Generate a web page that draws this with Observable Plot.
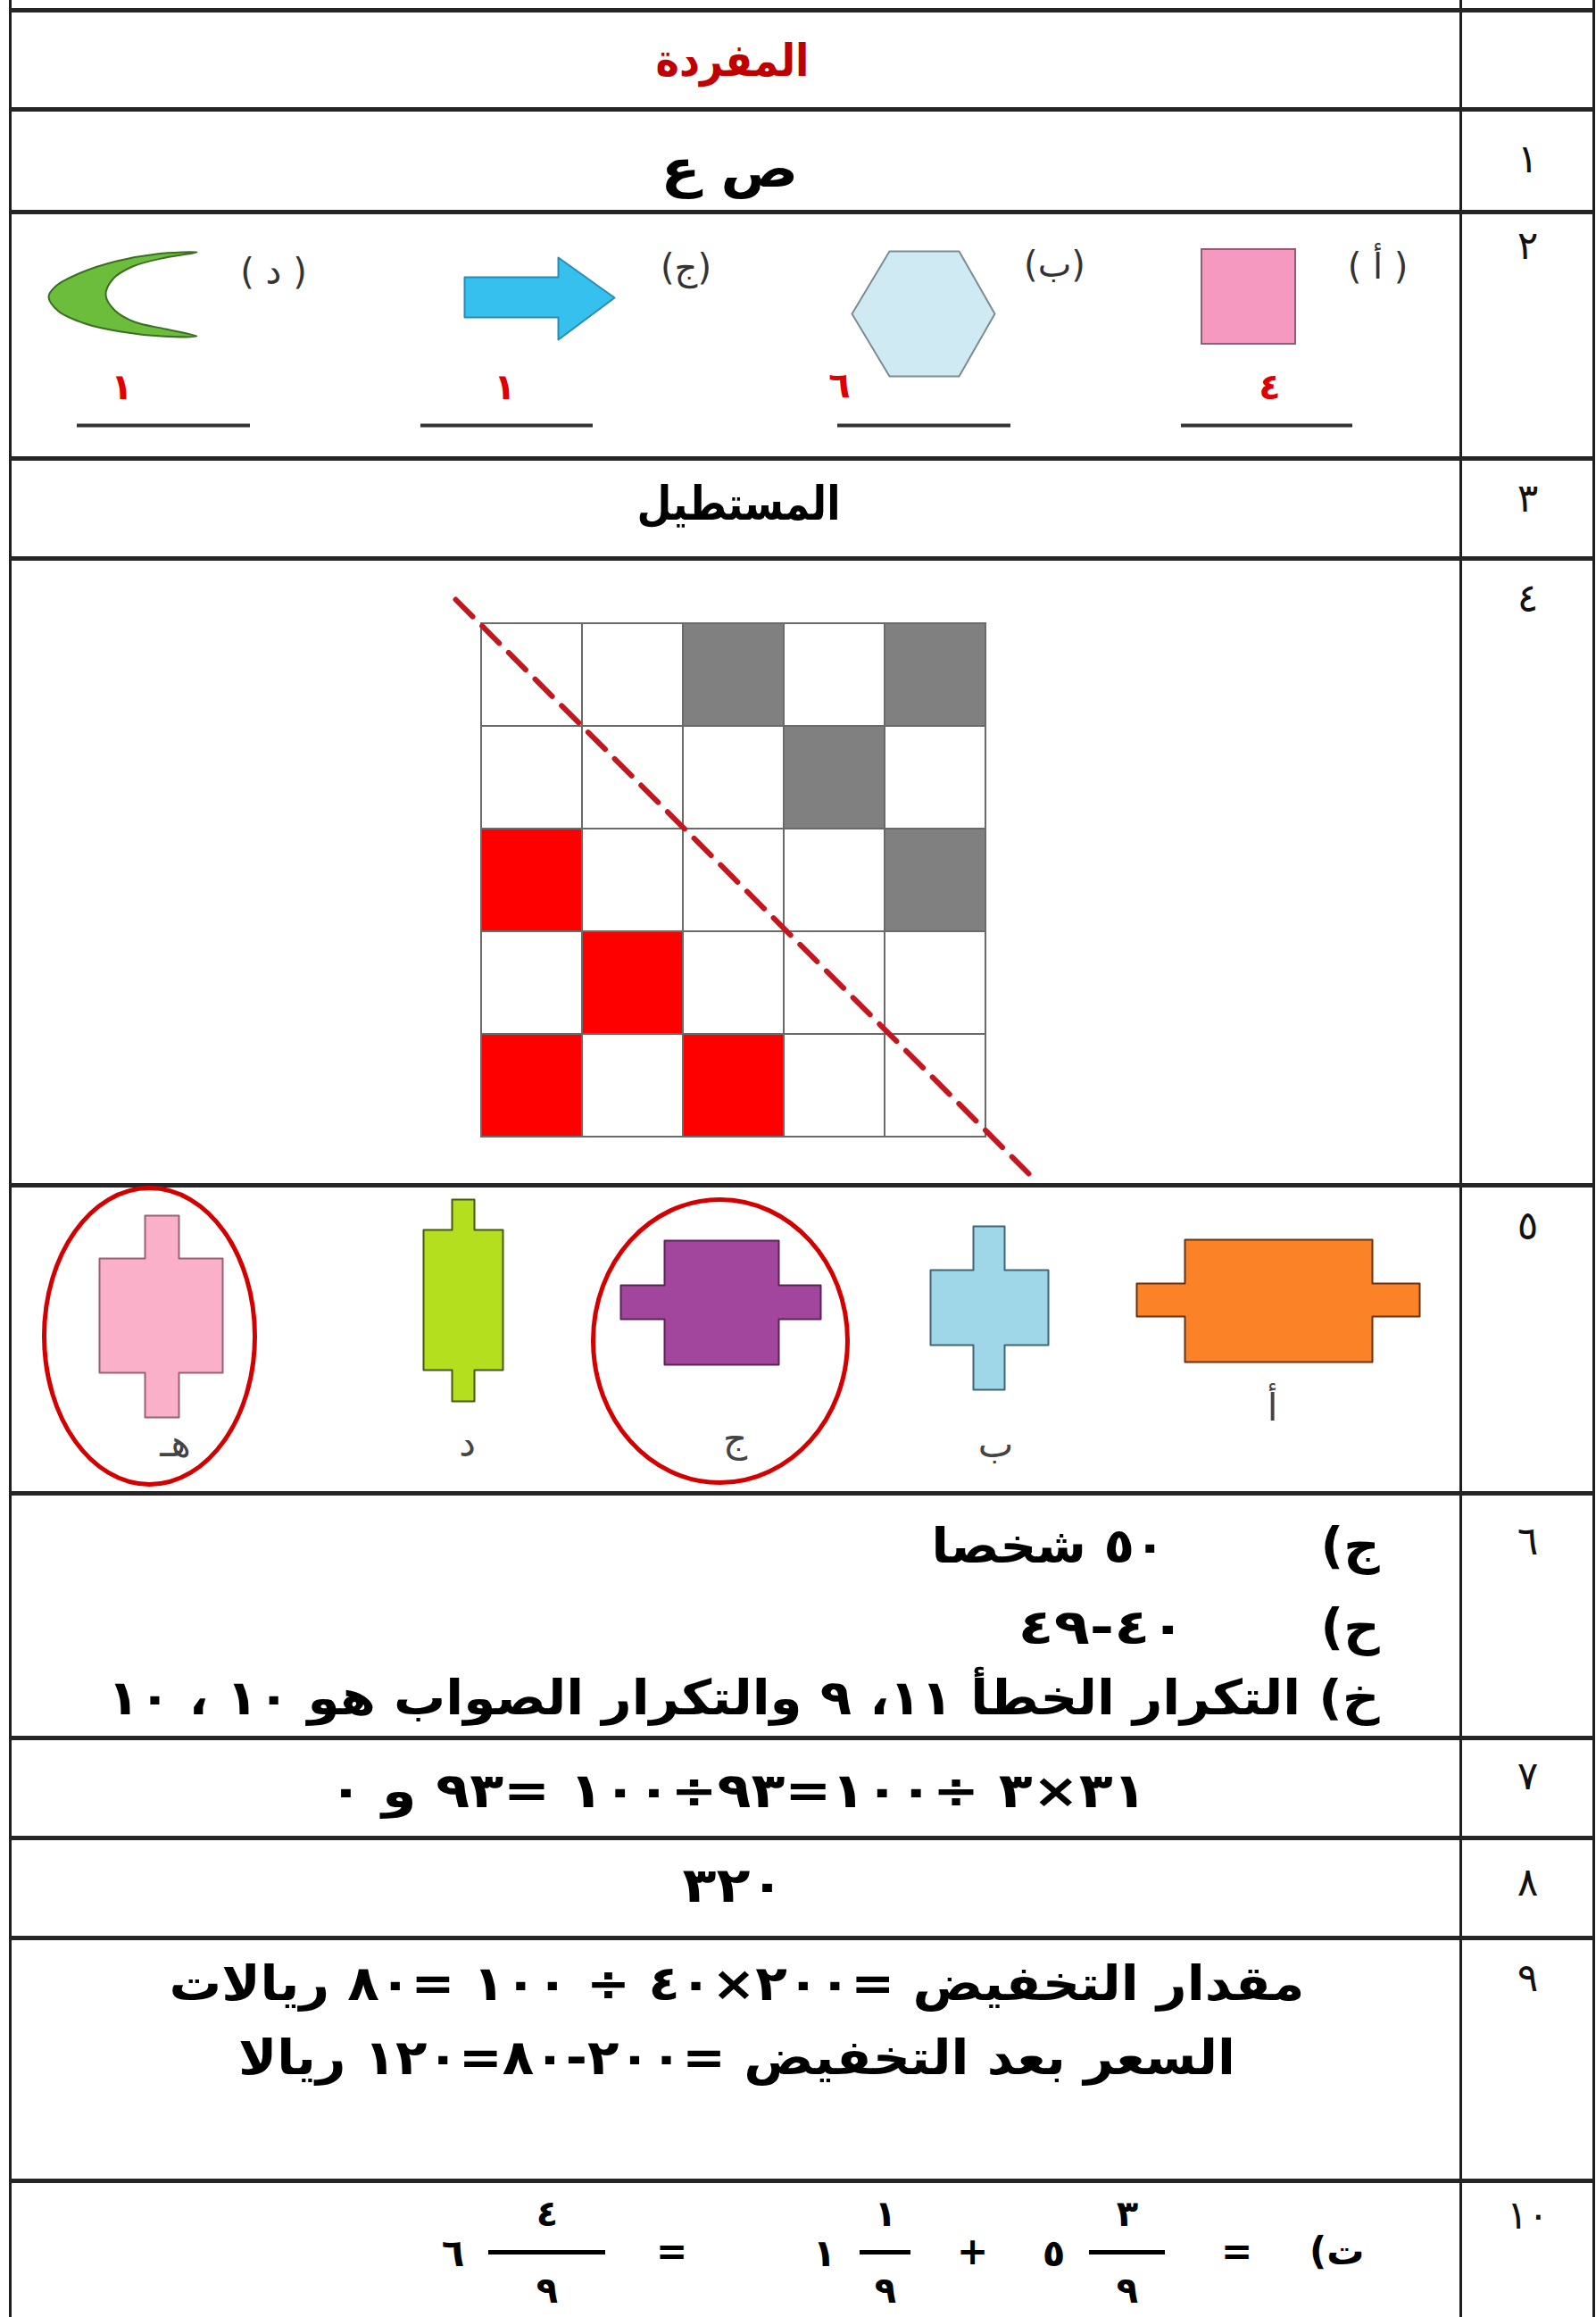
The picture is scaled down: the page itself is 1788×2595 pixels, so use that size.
<!DOCTYPE html>
<html><head><meta charset="utf-8">
<script src="https://cdn.jsdelivr.net/npm/d3@7"></script>
<script src="https://cdn.jsdelivr.net/npm/@observablehq/plot@0.6"></script>
<style>body{margin:0;background:#fff}</style>
</head><body><div id="chart"></div>
<script>
const W = 1788, H = 2595;

// ---- table frame ----
const rowLinesY = [11, 122, 237, 513, 625, 1327, 1672, 1946, 2058, 2170, 2442];
const colLinesX = [11, 1636, 1785];
const itemNumbers = ["١","٢","٣","٤","٥","٦","٧","٨","٩","١٠"];
const itemNumberY = [178, 275, 558, 670, 1373, 1726, 1989, 2108, 2215, 2481];

// ---- row titles ----
const headerTitle = "المفردة";
const answer1 = "ص ع";
const answer3 = "المستطيل";

// ---- row 2 shapes ----
const shape2Labels = ["( أ )", "(ب)", "(ج)", "( د )"];
const shape2LabelX = [1543, 1181, 768, 306];
const shape2LabelY = [299, 297, 300, 305];
const sideCounts = ["٤", "٦", "١", "١"];
const sideCountX = [1422, 940, 565, 136];
const sideCountY = [434, 432, 434, 434];
const blankX1 = [1323, 938, 471, 86];
const blankX2 = [1515, 1132, 664, 280];
const blankY = 476;
const pinkRect = {x1: 1346, x2: 1451, y1: 279, y2: 385};
const hexagonX = [996, 1074, 1114, 1074, 996, 954];
const hexagonY = [281, 281, 351, 421, 421, 351];
const arrowX = [520, 625, 625, 688, 625, 625, 520];
const arrowY = [310, 310, 288, 333, 380, 355, 355];
const crescentX = [220, 175, 130, 90, 62, 54, 65, 95, 135, 180, 220, 185, 150, 128, 118, 126, 148, 185];
const crescentY = [282, 284, 292, 305, 320, 332, 348, 362, 371, 376, 376, 368, 360, 347, 330, 312, 298, 288];

// ---- row 4 grid ----
const gridColors = [
  ["w","w","g","w","g"],
  ["w","w","w","g","w"],
  ["r","w","w","w","g"],
  ["w","r","w","w","w"],
  ["r","w","r","w","w"]
];
const gridLeft = 539, gridTop = 698, cellW = 113, cellH = 115;
const diagX = [510, 1152];
const diagY = [671, 1314];

// ---- row 5 shapes (main body + arms) ----
const crossNames = ["أ", "ب", "ج", "د", "هـ"];
const crossDir = ["h", "v", "h", "v", "v"];
const crossMain = [[1327,1537,1388,1525],[1042,1174,1422,1506],[744,872,1389,1528],[474,563,1377,1534],[111,249,1409,1537]];
const crossArm  = [[1273,1590,1437,1474],[1090,1125,1373,1556],[695,919,1439,1477],[506,531,1343,1569],[162,200,1361,1587]];
const crossFill = ["#fb8226", "#9fd6e8", "#a1459d", "#b4df1f", "#fbb0c9"];
const crossStroke = ["#6b3210", "#3f6676", "#5a2456", "#44580e", "#9a6076"];
const crossLabelX = [1425, 1115, 823, 523, 196];
const crossLabelY = [1577, 1618, 1612, 1617, 1617];
const ringTop = [[167,1330],[806,1343]];
const ringRight = [[285,1496],[949,1501]];
const ringBottom = [[167,1662],[806,1660]];
const ringLeft = [[49,1496],[664,1501]];

// ---- rows 6-9 text ----
const row6Labels = ["ج)", "ح)"];
const row6LabelY = [1732, 1823];
const row6Answers = ["٥٠ شخصا", "٤٠-٤٩"];
const row6AnswerRight = [1305, 1328];
const row6Line3 = "خ) التكرار الخطأ ١١، ٩ والتكرار الصواب هو ١٠ ، ١٠";
const row7 = "٣١×٣ ÷١٠٠=٩٣÷١٠٠ =٩٣ و ٠";
const row8 = "٣٢٠";
const row9 = ["مقدار التخفيض =٢٠٠×٤٠ ÷ ١٠٠ =٨٠ ريالات", "السعر بعد التخفيض =٢٠٠-٨٠=١٢٠ ريالا"];
const row9Y = [2222, 2305];

// ---- row 10 mixed fractions ----
const row10Label = "ت)";
const opSigns = ["=", "+", "="];
const opX = [1385, 1089, 752];
const wholes = ["٥", "١", "٦"];
const wholeX = [1180, 923, 507];
const numerators = ["٣", "١", "٤"];
const denominators = ["٩", "٩", "٩"];
const fracBarX1 = [1220, 963, 547];
const fracBarX2 = [1305, 1020, 678];

// ---------- layout: printed widths of the bold answer lines ----------
const fitWidths = new Map([
  [headerTitle, 172], [answer1, 154], [answer3, 228],
  [row6Line3, 1425], [row6Answers[0], 262], [row6Answers[1], 188],
  [row7, 916], [row8, 114], [row9[0], 1272], [row9[1], 1117]
]);

// ---------- build ----------
const rtl = s => "\u202B" + s + "\u202C";
const FONT = "DejaVu Sans";
const colorOf = {w: "#ffffff", g: "#808080", r: "#ff0000"};

const cells = gridColors.flatMap((row, i) => row.map((c, j) => ({
  x1: gridLeft + j * cellW, x2: gridLeft + (j + 1) * cellW,
  y1: gridTop + i * cellH, y2: gridTop + (i + 1) * cellH, fill: colorOf[c]
})));

function crossPoly(k) {
  const [mx1, mx2, my1, my2] = crossMain[k], [ax1, ax2, ay1, ay2] = crossArm[k];
  const p = crossDir[k] === "h"
    ? [[mx1,my1],[mx2,my1],[mx2,ay1],[ax2,ay1],[ax2,ay2],[mx2,ay2],[mx2,my2],[mx1,my2],[mx1,ay2],[ax1,ay2],[ax1,ay1],[mx1,ay1]]
    : [[ax1,ay1],[ax2,ay1],[ax2,my1],[mx2,my1],[mx2,my2],[ax2,my2],[ax2,ay2],[ax1,ay2],[ax1,my2],[mx1,my2],[mx1,my1],[ax1,my1]];
  return p.map(([x, y]) => ({x, y}));
}
const zip = (xs, ys) => xs.map((x, i) => ({x, y: ys[i]}));

const marks = [];
// table lines
marks.push(Plot.ruleX(colLinesX, {x: d => d, y1: 0, y2: H, stroke: "#1e1e1e", strokeWidth: 3}));
marks.push(Plot.ruleY(rowLinesY, {y: d => d, x1: colLinesX[0], x2: colLinesX[2], stroke: "#262626", strokeWidth: 5}));
// item numbers
marks.push(Plot.text(itemNumbers, {x: 1711, y: (d, i) => itemNumberY[i], text: d => d, fontSize: 44, fontFamily: FONT, fill: "#111"}));
// titles
marks.push(Plot.text([headerTitle], {x: 820, y: 68, text: d => rtl(d), fontSize: 50, fontWeight: "bold", fontFamily: FONT, fill: "#c00000"}));
marks.push(Plot.text([answer1], {x: 817, y: 190, text: d => rtl(d), fontSize: 58, fontWeight: "bold", fontFamily: FONT, fill: "#000"}));
marks.push(Plot.text([answer3], {x: 827, y: 565, text: d => rtl(d), fontSize: 52, fontWeight: "bold", fontFamily: FONT, fill: "#000"}));

// row 2 shapes
marks.push(Plot.rect([pinkRect], {x1: "x1", x2: "x2", y1: "y1", y2: "y2", fill: "#f599c0", stroke: "#9a5a76", strokeWidth: 2}));
marks.push(Plot.line(zip(hexagonX, hexagonY), {x: "x", y: "y", curve: "linear-closed", fill: "#cfeaf3", stroke: "#7d8b90", strokeWidth: 2}));
marks.push(Plot.line(zip(arrowX, arrowY), {x: "x", y: "y", curve: "linear-closed", fill: "#35c0ee", stroke: "#2a8cb4", strokeWidth: 2}));
marks.push(Plot.line(zip(crescentX, crescentY), {x: "x", y: "y", curve: "catmull-rom-closed", fill: "#6cbd3b", stroke: "#3a6e22", strokeWidth: 2}));
marks.push(Plot.text(shape2Labels, {x: (d, i) => shape2LabelX[i], y: (d, i) => shape2LabelY[i], text: d => rtl(d), fontSize: 40, fontFamily: FONT, fill: "#333"}));
marks.push(Plot.text(sideCounts, {x: (d, i) => sideCountX[i], y: (d, i) => sideCountY[i], text: d => d, fontSize: 40, fontWeight: "bold", fontFamily: FONT, fill: "#e00000"}));
marks.push(Plot.ruleY(blankX1, {y: blankY, x1: d => d, x2: (d, i) => blankX2[i], stroke: "#333", strokeWidth: 4}));

// row 4 grid
marks.push(Plot.rect(cells, {x1: "x1", x2: "x2", y1: "y1", y2: "y2", fill: "fill", stroke: "#6a6a6a", strokeWidth: 2}));
marks.push(Plot.line(zip(diagX, diagY), {x: "x", y: "y", stroke: "#c4161c", strokeWidth: 6, strokeDasharray: "27,15"}));

// row 5 shapes
crossNames.forEach((n, k) => {
  marks.push(Plot.line(crossPoly(k), {x: "x", y: "y", curve: "linear-closed", fill: crossFill[k], stroke: crossStroke[k], strokeWidth: 2}));
});
marks.push(Plot.text(crossNames, {x: (d, i) => crossLabelX[i], y: (d, i) => crossLabelY[i], text: d => rtl(d), fontSize: 42, fontFamily: FONT, fill: "#444"}));
ringTop.forEach((t, k) => {
  const pts = [t, ringRight[k], ringBottom[k], ringLeft[k]].map(([x, y]) => ({x, y}));
  marks.push(Plot.line(pts, {x: "x", y: "y", curve: "cardinal-closed", tension: -0.657, stroke: "#d40000", strokeWidth: 5, fill: "none"}));
});

// row 6
marks.push(Plot.text(row6Labels, {x: 1545, y: (d, i) => row6LabelY[i], text: d => rtl(d), textAnchor: "end", fontSize: 56, fontWeight: "bold", fontFamily: FONT, fill: "#000"}));
marks.push(Plot.text(row6Answers, {x: (d, i) => row6AnswerRight[i], y: (d, i) => row6LabelY[i], text: d => rtl(d), textAnchor: "end", fontSize: 54, fontWeight: "bold", fontFamily: FONT, fill: "#000"}));
marks.push(Plot.text([row6Line3], {x: 1545, y: 1902, text: d => rtl(d), textAnchor: "end", fontSize: 54, fontWeight: "bold", fontFamily: FONT, fill: "#000"}));
// row 7, 8, 9
marks.push(Plot.text([row7], {x: 826, y: 2006, text: d => rtl(d), fontSize: 54, fontWeight: "bold", fontFamily: FONT, fill: "#000"}));
marks.push(Plot.text([row8], {x: 821, y: 2112, text: d => rtl(d), fontSize: 54, fontWeight: "bold", fontFamily: FONT, fill: "#000"}));
marks.push(Plot.text(row9, {x: 825, y: (d, i) => row9Y[i], text: d => rtl(d), fontSize: 54, fontWeight: "bold", fontFamily: FONT, fill: "#000"}));

// row 10
marks.push(Plot.text([row10Label], {x: 1528, y: 2522, text: d => rtl(d), textAnchor: "end", fontSize: 42, fontWeight: "bold", fontFamily: FONT, fill: "#000"}));
marks.push(Plot.text(opSigns, {x: (d, i) => opX[i], y: 2522, text: d => d, fontSize: 42, fontWeight: "bold", fontFamily: FONT, fill: "#000"}));
marks.push(Plot.text(wholes, {x: (d, i) => wholeX[i], y: 2524, text: d => d, fontSize: 42, fontWeight: "bold", fontFamily: FONT, fill: "#000"}));
marks.push(Plot.text(numerators, {x: (d, i) => (fracBarX1[i] + fracBarX2[i]) / 2, y: 2480, text: d => d, fontSize: 40, fontWeight: "bold", fontFamily: FONT, fill: "#000"}));
marks.push(Plot.text(denominators, {x: (d, i) => (fracBarX1[i] + fracBarX2[i]) / 2, y: 2566, text: d => d, fontSize: 40, fontWeight: "bold", fontFamily: FONT, fill: "#000"}));
marks.push(Plot.ruleY(fracBarX1, {y: 2522, x1: d => d, x2: (d, i) => fracBarX2[i], stroke: "#000", strokeWidth: 5}));

const chart = Plot.plot({
  width: W, height: H, margin: 0,
  x: {domain: [0, W], range: [0, W], axis: null},
  y: {domain: [0, H], range: [0, H], axis: null},
  color: {type: "identity"},
  style: {background: "#fff"},
  marks
});
// stretch the bold answer lines to their printed widths
d3.select(chart).selectAll("text").each(function () {
  const key = this.textContent.replace(/[\u202B\u202C]/g, "");
  if (fitWidths.has(key)) {
    this.setAttribute("textLength", fitWidths.get(key));
    this.setAttribute("lengthAdjust", "spacingAndGlyphs");
  }
});
document.getElementById("chart").appendChild(chart);
</script>
</body></html>
